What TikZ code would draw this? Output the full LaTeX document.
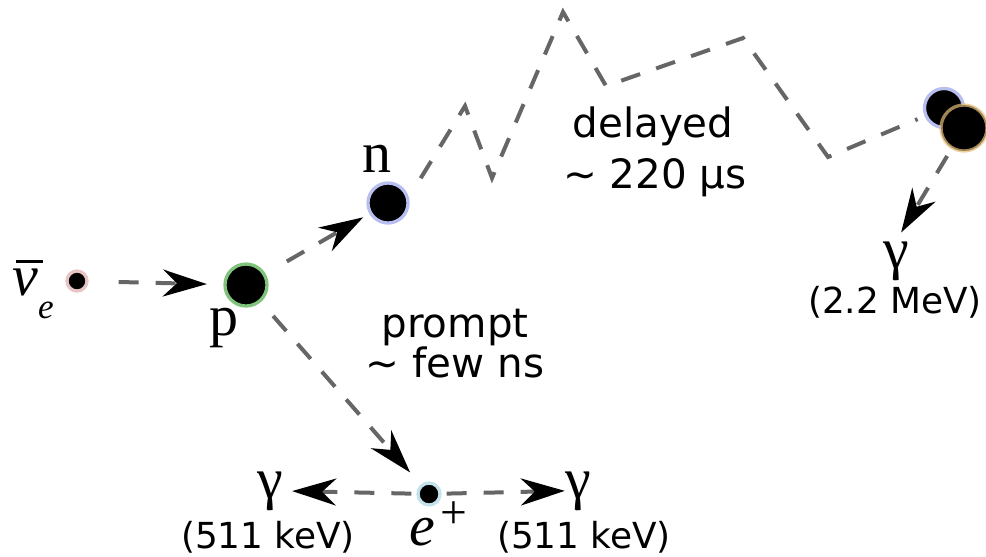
\documentclass[tikz,border=0pt]{standalone}
\usepackage{fontspec}
\newfontfamily\labelfont{DejaVu Sans}
\newfontfamily\symfont{Liberation Serif}
\usetikzlibrary{arrows.meta}

\definecolor{trackgray}{RGB}{102,102,102}
\definecolor{nupink}{RGB}{232,196,196}
\definecolor{protongreen}{RGB}{128,196,124}
\definecolor{neutronblue}{RGB}{184,190,240}
\definecolor{positroncyan}{RGB}{196,226,236}
\definecolor{capturegold}{RGB}{228,190,120}

\newcommand{\smallsym}[2][20]{{\fontsize{#1}{#1}\selectfont #2}}

\begin{document}
\begin{tikzpicture}[x=0.02cm, y=-0.02cm,
    particle/.style={circle, fill=black, line width=0.066cm, inner sep=0pt},
    track/.style={draw=trackgray, line width=0.08cm, dash pattern=on 0.4cm off 0.34cm},
    flow/.style={track, -{Stealth[length=0.88cm, width=0.54cm, inset=0.28cm, black]}},
    sym/.style={font=\symfont\fontsize{33}{33}\selectfont, inner sep=0pt, anchor=base},
    timing/.style={font=\labelfont\fontsize{23}{27}\selectfont, inner sep=0pt, anchor=base},
    energy/.style={font=\labelfont\fontsize{20.4}{24}\selectfont, inner sep=0pt, anchor=base}]

    % 1. Fix the page to the size of the reference
    \useasboundingbox (0,0) rectangle (986,556);

    % 2. Particles
    \node[particle, draw=nupink, minimum size=0.4cm] (nu) at (77,281) {};
    \node[particle, draw=protongreen, minimum size=0.84cm] (p) at (246,285) {};
    \node[particle, draw=neutronblue, minimum size=0.8cm] (n) at (388,203) {};
    \node[particle, draw=positroncyan, minimum size=0.44cm] (e) at (429,494) {};
    \node[particle, draw=neutronblue, minimum size=0.78cm] (nc) at (944,108) {};
    \node[particle, draw=capturegold, draw opacity=0.7, minimum size=0.92cm] (d) at (964,128) {};

    % 3. Particle names
    \node[sym, anchor=base west] (nulabel) at (12,295)
        {\itshape\rlap{\kern0.06em\raisebox{0.56em}{\rule{0.46em}{0.045em}}}ν\raisebox{-0.4em}{\smallsym{e}}};
    \node[sym] (plabel) at (224,335) {p};
    \node[sym] (nlabel) at (377,172) {n};
    \node[sym, anchor=base west] (elabel) at (409,545) {\itshape e\kern0.04em\raisebox{0.34cm}{\smallsym[27]{+}}};
    \node[sym] (gammaL) at (270,498) {γ};
    \node[sym] (gammaR) at (578,498) {γ};
    \node[sym] (gammaT) at (896,268) {γ};

    % 4. Energies and times
    \node[energy] (energyL) at (268,548) {(511 keV)};
    \node[energy] (energyR) at (584,548) {(511 keV)};
    \node[energy] (energyT) at (895,313) {(2.2 MeV)};
    \node[timing] (prompt) at (455,337) {prompt};
    \node[timing] (promptTime) at (455,377) {\textasciitilde{} few ns};
    \node[timing] (delayed) at (653,137) {delayed};
    \node[timing] (delayedTime) at (655,188) {\textasciitilde{} 220 µs};

    % 5. Prompt signal
    \draw[flow, shorten <=0.6cm, shorten >=0.33cm] (nu) -- (p);
    \draw[flow, shorten <=0.49cm, shorten >=0.14cm] (p) -- (n);
    \draw[flow, shorten <=0.37cm, shorten >=0.32cm] (p) -- (e);
    \draw[flow, shorten <=0.1cm, shorten >=0.18cm] (e) -- (gammaL.east);
    \draw[flow, shorten <=0.1cm] (e) -- (gammaR.west);

    % 6. Neutron random walk until capture
    \coordinate (z1) at (465,106);
    \coordinate (z2) at (492,178);
    \coordinate (z3) at (563,12);
    \coordinate (z4) at (606,86);
    \coordinate (z5) at (743,38);
    \coordinate (z6) at (828,157);
    \draw[track, shorten <=0.45cm, shorten >=0.15cm] (n.15) -- (z1) -- (z2) -- (z3) -- (z4) -- (z5) -- (z6) -- (nc);

    % 7. Delayed gamma
    \draw[flow, shorten <=0.16cm, shorten >=0.2cm] (d) -- (gammaT.north);

\end{tikzpicture}
\end{document}
